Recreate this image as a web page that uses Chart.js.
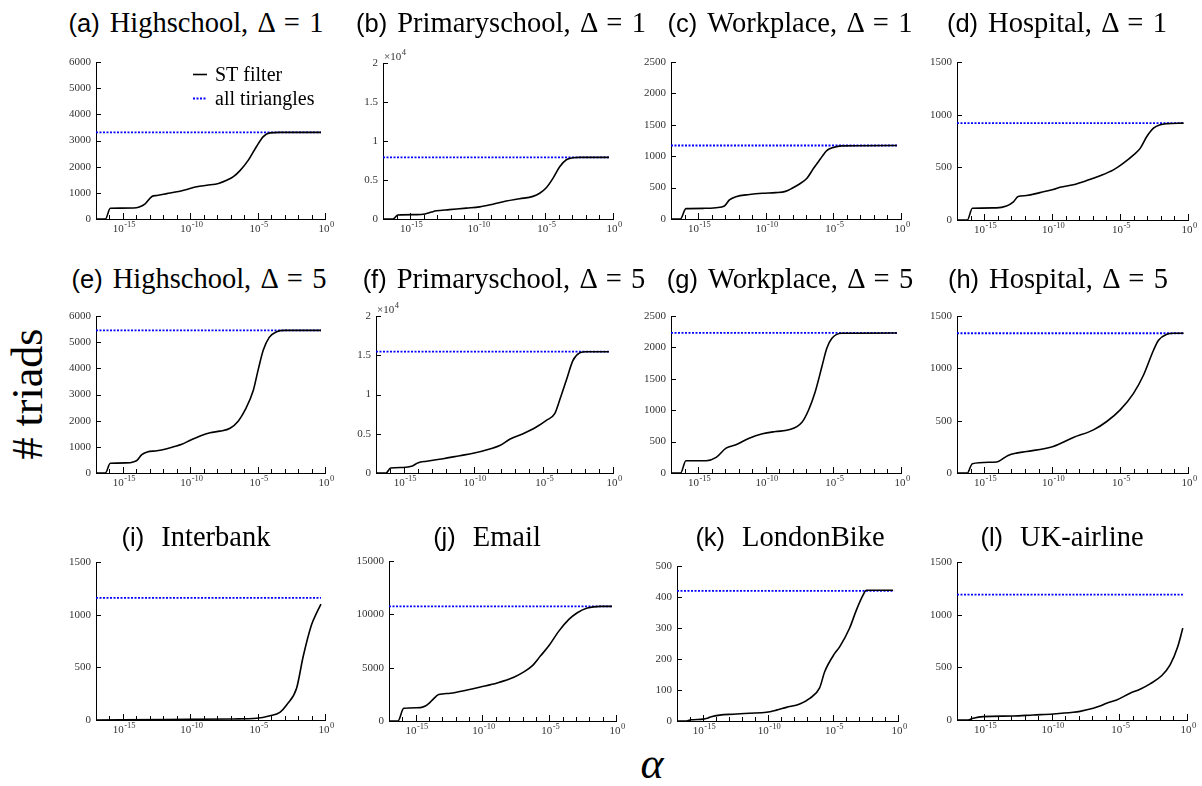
<!DOCTYPE html>
<html>
<head>
<meta charset="utf-8">
<script src="https://cdn.jsdelivr.net/npm/chart.js@4.4.1/dist/chart.umd.min.js"></script>
<style>
html,body{margin:0;padding:0;background:#fff;}
#fig{position:relative;width:1202px;height:786px;overflow:hidden;background:#fff;}
#fig canvas{position:absolute;}
.ttl{position:absolute;white-space:nowrap;transform:translateX(-50%);font-family:"Liberation Serif",serif;font-size:28.5px;line-height:30px;color:#000;word-spacing:0.08em;z-index:5;}
.ttl .lbl{font-family:"Liberation Sans",sans-serif;font-size:25.5px;margin-right:10px;word-spacing:0;}
.ttl .lbl2{margin-right:17px;}
#ylab{position:absolute;left:-72px;top:372px;width:200px;height:44px;line-height:44px;text-align:center;font-family:"Liberation Serif",serif;font-size:44px;transform:rotate(-90deg);color:#000;}
#xlab{position:absolute;left:652px;top:742px;transform:translateX(-50%);line-height:44px;font-family:"Liberation Serif",serif;font-style:italic;font-size:44px;color:#000;}
</style>
</head>
<body>
<div id="fig">
  <div id="ylab"># triads</div>
  <div id="xlab">α</div>
</div>
<script>
// ---------- data (alpha given as log10 exponents) ----------
const panelIds   = ['a','b','c','d','e','f','g','h','i','j','k','l'];
const panelNames = ['Highschool, Δ = 1','Primaryschool, Δ = 1','Workplace, Δ = 1','Hospital, Δ = 1',
                    'Highschool, Δ = 5','Primaryschool, Δ = 5','Workplace, Δ = 5','Hospital, Δ = 5',
                    'Interbank','Email','LondonBike','UK-airline'];
const seriesLabels = ['ST filter','all tiriangles'];
const allTriangles = [3310, 7900, 1170, 920, 5450, 15450, 2230, 1335, 1160, 10750, 420, 1190];
const allTriAlphaExp = [-17, -0.3];
const yMaxes = [6000, 20000, 2500, 1500, 6000, 20000, 2500, 1500, 1500, 15000, 500, 1500];
const ySteps = [1000, 5000, 500, 500, 1000, 5000, 500, 500, 500, 5000, 100, 500];
const xTickExps = [-15, -10, -5, 0];

const alphaExp_a = [-17,-16.3,-15.94,-15.2,-14.2,-13.84,-13.35,-12.85,-12.48,-11.74,-11.0,-10.26,-9.52,-8.78,-7.91,-7.3,-6.8,-6.31,-5.69,-5.07,-4.58,-4.09,-3.35,-0.3];
const triads_a   = [0,0,410,415,420,450,580,860,900,970,1040,1130,1230,1290,1360,1480,1620,1850,2250,2780,3150,3290,3310,3310];

const alphaExp_b = [-17,-16.26,-15.9,-14.5,-13.9,-13.4,-13.06,-12.1,-10.84,-9.86,-8.87,-7.89,-6.9,-5.92,-5.42,-4.93,-4.44,-3.94,-3.45,-2.96,-2.46,-0.3];
const triads_b   = [0,0,520,560,650,900,1050,1200,1400,1550,1900,2300,2600,2900,3300,4000,5200,6700,7600,7850,7900,7900];

const alphaExp_c = [-17,-16.3,-15.9,-14.5,-13.66,-13.05,-12.68,-12.2,-11.2,-10.24,-9.27,-8.54,-8.05,-7.56,-6.95,-6.46,-5.98,-5.49,-5.0,-4.39,-0.3];
const triads_c   = [0,0,165,170,180,207,303,356,390,410,420,440,489,550,649,808,950,1090,1140,1165,1170];

const alphaExp_d = [-17,-16.24,-15.87,-14.1,-13.36,-12.87,-12.5,-11.88,-10.9,-9.92,-9.42,-8.44,-7.46,-6.47,-5.49,-4.75,-4.0,-3.52,-3.03,-2.54,-2.04,-1.55,-0.32];
const triads_d   = [0,0,111,115,133,170,222,232,260,290,311,335,374,420,476,540,618,680,793,872,905,915,920];

const alphaExp_e = [-17,-16.31,-15.94,-14.46,-14.2,-13.96,-13.6,-13.2,-12.48,-11.74,-11.25,-10.63,-10.01,-9.27,-8.53,-7.79,-7.05,-6.43,-5.94,-5.32,-4.95,-4.58,-4.14,-3.59,-2.98,-0.3];
const triads_e   = [0,0,370,390,430,485,702,804,850,930,1000,1098,1250,1417,1540,1600,1710,1991,2400,3166,3970,4698,5183,5400,5450,5450];

const alphaExp_f = [-17,-16.28,-15.95,-15.04,-14.45,-13.97,-13.37,-12.18,-10.99,-10.03,-8.84,-8.12,-7.41,-6.45,-5.5,-4.78,-4.18,-3.83,-3.35,-2.87,-2.39,-1.92,-0.3];
const triads_f   = [0,0,640,700,850,1316,1500,1826,2208,2505,3057,3500,4289,5010,5860,6709,7558,9257,11805,14352,15300,15450,15450];

const alphaExp_g = [-17,-16.29,-15.9,-14.39,-13.66,-12.93,-12.2,-11.22,-10.24,-9.27,-8.29,-7.32,-6.83,-6.34,-5.85,-5.49,-5.12,-4.39,-0.3];
const triads_g   = [0,0,196,196,248,396,449,555,624,660,687,809,1004,1295,1691,1982,2140,2225,2230];

const alphaExp_h = [-17,-16.24,-15.87,-14.1,-13.24,-12.62,-11.88,-9.92,-8.44,-6.96,-5.98,-4.99,-4.01,-3.27,-2.54,-2.17,-1.55,-1.06,-0.32];
const triads_h   = [0,0,89,105,168,190,205,254,339,412,492,603,761,936,1173,1269,1326,1335,1335];

const alphaExp_i = [-17,-11.74,-6.8,-5.07,-4.09,-3.35,-2.85,-2.11,-1.62,-1.0,-0.63,-0.3];
const triads_i   = [0,5,10,16,40,73,143,301,603,904,1015,1100];

const alphaExp_j = [-17,-16.33,-15.9,-14.65,-14.28,-14.03,-13.65,-13.28,-12.4,-11.15,-10.15,-8.9,-7.65,-6.9,-6.28,-5.65,-5.03,-4.28,-3.53,-2.9,-2.15,-1.15,-0.3];
const triads_j   = [0,0,1190,1250,1400,1628,2098,2474,2600,2913,3194,3570,4103,4604,5168,6107,7047,8425,9521,10147,10600,10750,10750];

const alphaExp_k = [-17,-16.28,-15.9,-15.0,-14.6,-14.36,-13.72,-12.69,-11.41,-10.13,-9.36,-8.59,-7.56,-6.79,-6.03,-5.64,-4.87,-4.49,-3.72,-3.21,-2.69,-2.44,-0.38];
const triads_k   = [0,0,4,6,10,14,19,22,25,28,35,44,55,73,107,159,218,239,300,357,406,422,422];

const alphaExp_l = [-17,-16.19,-15.81,-15.07,-12.85,-11.37,-9.89,-8.41,-7.91,-6.93,-6.43,-5.94,-5.2,-4.21,-3.47,-2.73,-1.86,-1.25,-0.68,-0.31];
const triads_l   = [0,0,16,32,38,48,57,73,82,111,133,159,190,254,292,343,422,523,698,872];

const alphaExps = [alphaExp_a,alphaExp_b,alphaExp_c,alphaExp_d,alphaExp_e,alphaExp_f,alphaExp_g,alphaExp_h,alphaExp_i,alphaExp_j,alphaExp_k,alphaExp_l];
const triadSeries = [triads_a,triads_b,triads_c,triads_d,triads_e,triads_f,triads_g,triads_h,triads_i,triads_j,triads_k,triads_l];

// ---------- layout (plot-area rectangles: left, right, top, bottom) ----------
const plotRects = [
  [96,325,62,219],[383,613,63,219],[671,901,62,219],[957,1188,62,220],
  [96,325,316,473],[376,613,316,473],[671,901,316,473],[957,1188,316,473],
  [96,325,562,720],[389,616,561,721],[677,898,566,721],[957,1187,562,720]
];
const titleCenters = [196,501,790,1057, 199,504,790,1058, 196,487,790,1062];
const titleBaselines = [32,288,546];

const SERIF = '"Liberation Serif", "Times New Roman", serif';
const PAD_L = 50, PAD_T = 22, PAD_R = 12, PAD_B = 24;

const decor = {
  id: 'decor',
  afterDraw(chart, args, opts) {
    const {ctx, chartArea: ca} = chart;
    const x = chart.scales.x, y = chart.scales.y;
    ctx.save();
    ctx.strokeStyle = '#000';
    ctx.lineWidth = 1;
    // x ticks (inward)
    x.ticks.forEach(t => {
      const e = Math.round(Math.log10(t.value));
      const px = Math.round(x.getPixelForValue(t.value)) + 0.5;
      const len = (e % 5 === 0) ? 6 : 4;
      ctx.beginPath(); ctx.moveTo(px, ca.bottom); ctx.lineTo(px, ca.bottom - len); ctx.stroke();
    });
    // y ticks (inward)
    y.ticks.forEach(t => {
      const py = Math.round(y.getPixelForValue(t.value)) + 0.5;
      ctx.beginPath(); ctx.moveTo(ca.left, py); ctx.lineTo(ca.left + 5, py); ctx.stroke();
    });
    // x tick labels 10^e
    ctx.fillStyle = '#333';
    ctx.textAlign = 'left';
    ctx.textBaseline = 'alphabetic';
    xTickExps.forEach(e => {
      const px = x.getPixelForValue(Math.pow(10, e));
      const sup = String(e);
      ctx.font = '11px ' + SERIF; const w1 = ctx.measureText('10').width;
      ctx.font = '8.5px ' + SERIF;  const w2 = ctx.measureText(sup).width;
      const x0 = px - (w1 + w2) / 2 + 1;
      const by = ca.bottom + 13;
      ctx.font = '11px ' + SERIF; ctx.fillText('10', x0, by);
      ctx.font = '8.5px ' + SERIF;  ctx.fillText(sup, x0 + w1 + 0.5, by - 5);
    });
    // multiplier
    if (opts.mult) {
      ctx.font = '11px ' + SERIF; ctx.fillText('\u00d710', ca.left + 1, ca.top - 3);
      const w = ctx.measureText('\u00d710').width;
      ctx.font = '8.5px ' + SERIF; ctx.fillText('4', ca.left + 1.5 + w, ca.top - 8);
    }
    // legend
    if (opts.legend) {
      const ds = chart.data.datasets;
      const rows = [ca.top + 12, ca.top + 35.5];
      ds.forEach((d, k) => {
        const yy = Math.round(rows[k]) + 0.5;
        ctx.strokeStyle = d.borderColor; ctx.lineWidth = d.borderWidth;
        ctx.setLineDash(d.borderDash || []);
        ctx.beginPath(); ctx.moveTo(ca.left + 97, yy); ctx.lineTo(ca.left + 111, yy); ctx.stroke();
        ctx.setLineDash([]);
        ctx.fillStyle = '#000'; ctx.font = '20px ' + SERIF; ctx.textBaseline = 'middle';
        ctx.fillText(d.label, ca.left + 119, yy + 1);
      });
    }
    ctx.restore();
  }
};

const fig = document.getElementById('fig');

panelIds.forEach((id, idx) => {
  const [L, R, T, B] = plotRects[idx];
  const cv = document.createElement('canvas');
  const W = R - L + PAD_L + PAD_R, H = B - T + PAD_T + PAD_B;
  cv.width = W; cv.height = H;
  cv.style.left = (L - PAD_L) + 'px'; cv.style.top = (T - PAD_T) + 'px';
  cv.style.width = W + 'px'; cv.style.height = H + 'px';
  fig.appendChild(cv);

  // title
  const row = Math.floor(idx / 4);
  const tdiv = document.createElement('div');
  tdiv.className = 'ttl';
  tdiv.style.left = titleCenters[idx] + 'px';
  tdiv.style.top = (titleBaselines[row] - 24) + 'px';
  const lab = document.createElement('span');
  lab.className = 'lbl' + (row === 2 ? ' lbl2' : '');
  lab.textContent = '(' + id + ')';
  tdiv.appendChild(lab);
  tdiv.appendChild(document.createTextNode(panelNames[idx]));
  fig.appendChild(tdiv);

  const xs = alphaExps[idx], ys = triadSeries[idx];
  const isMult = (yMaxes[idx] === 20000);
  new Chart(cv.getContext('2d'), {
    type: 'line',
    data: {
      datasets: [
        {
          label: seriesLabels[0],
          data: xs.map((e, k) => ({x: Math.pow(10, e), y: ys[k]})),
          borderColor: '#000', borderWidth: 1.6, pointRadius: 0,
          cubicInterpolationMode: 'monotone', fill: false
        },
        {
          label: seriesLabels[1],
          data: allTriAlphaExp.map(e => ({x: Math.pow(10, e), y: allTriangles[idx]})),
          borderColor: '#0000ff', borderWidth: 1.8, borderDash: [2, 1.5],
          pointRadius: 0, fill: false
        }
      ]
    },
    options: {
      responsive: false, animation: false, devicePixelRatio: 1,
      layout: {padding: {top: PAD_T, right: PAD_R, left: 0, bottom: 0}},
      plugins: {
        legend: {display: false}, tooltip: {enabled: false}, title: {display: false},
        decor: {legend: idx === 0, mult: isMult}
      },
      scales: {
        x: {
          type: 'logarithmic', min: 1e-17, max: 1,
          afterBuildTicks: s => { s.ticks = []; for (let e = -17; e <= 0; e++) s.ticks.push({value: Math.pow(10, e)}); },
          afterFit: s => { s.height = PAD_B; },
          ticks: {display: false},
          grid: {display: false, drawTicks: false},
          border: {display: true, color: '#000', width: 1}
        },
        y: {
          type: 'linear', min: 0, max: yMaxes[idx],
          afterFit: s => { s.width = PAD_L; },
          ticks: {
            stepSize: ySteps[idx], padding: 5, color: '#333', autoSkip: false,
            font: {family: SERIF, size: 11},
            callback: v => isMult ? String(v / 10000) : String(v)
          },
          grid: {display: false, drawTicks: false},
          border: {display: true, color: '#000', width: 1}
        }
      }
    },
    plugins: [decor]
  });
});
</script>
</body>
</html>
